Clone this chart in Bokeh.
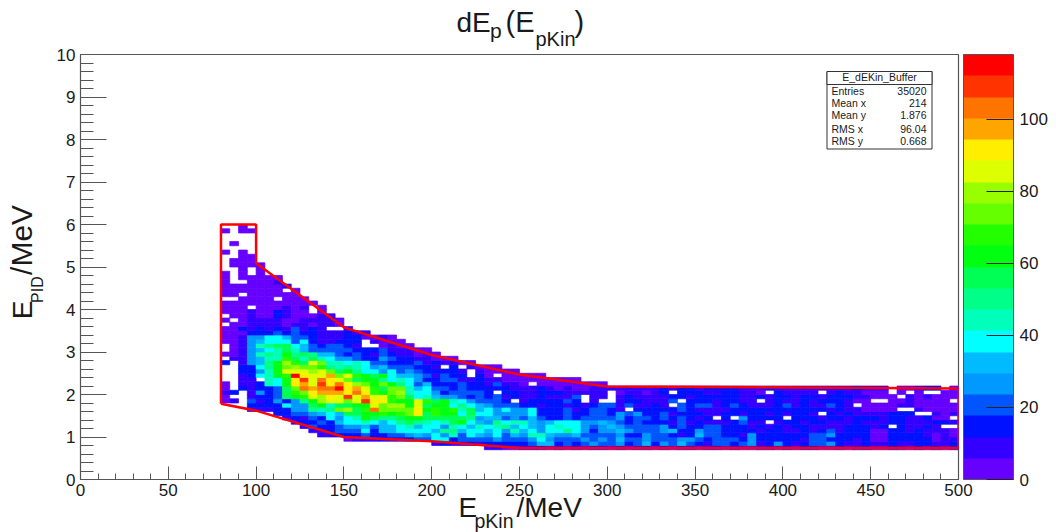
from bokeh.plotting import figure
from bokeh.layouts import row, column
from bokeh.models import (ColumnDataSource, LinearColorMapper, FixedTicker, Label, BoxAnnotation, Range1d, ColorBar)
from bokeh.transform import transform
from bokeh.core.properties import value
from bokeh.embed import file_html
from bokeh.resources import INLINE

# ---- data: counts per bin, 5 MeV wide columns starting at 80 MeV,
# rows named by lower edge in tenths of MeV
r59 = [0,0,3,0]
r58 = [3,0,3,3]
r55 = [0,3]
r53 = [3,0,3]
r52 = [0,0,3,3]
r51 = [0,3,3,3]
r50 = [0,3,3,3,3]
r49 = [0,0,3,0,3]
r48 = [3,0,3,0,3,0]
r47 = [3,0,3,3,3,3,3]
r46 = [3,0,0,3,3,3,9]
r45 = [3,3,3,3,3,3,3,9]
r44 = [3,3,3,3,3,3,3,0,3]
r43 = [3,3,0,3,3,3,3,3,3]
r42 = [0,0,3,3,3,3,0,3,3,3]
r41 = [3,3,3,3,3,3,3,3,3,3,3]
r40 = [3,3,3,0,3,3,3,9,3,9,0,3]
r39 = [3,3,3,9,3,3,15,9,3,3,0,3]
r38 = [0,3,3,9,3,3,15,9,3,3,3,9,9]
r37 = [3,0,3,9,9,9,9,3,3,9,9,9,9,3]
r36 = [0,3,3,9,9,9,9,3,9,9,3,9,9,3]
r35 = [3,3,15,9,15,9,15,9,21,9,15,9,0,0,9]
r34 = [3,3,3,15,15,15,21,15,21,15,15,9,9,9,15,9,9]
r33 = [3,3,9,27,27,38,38,32,21,21,15,9,9,9,15,15,3,3,9,3]
r32 = [3,3,9,27,32,38,38,38,21,38,15,9,9,15,15,15,0,9,3,3,3]
r31 = [0,3,9,27,44,50,56,56,38,32,21,15,21,21,15,9,0,0,3,9,3,3]
r30 = [0,3,9,27,32,38,44,56,44,32,21,21,21,21,21,15,15,15,21,9,9,9,3,3]
r29 = [3,3,9,27,44,50,44,62,50,56,50,32,32,21,15,21,15,9,21,15,9,9,3,9,3]
r28 = [0,9,9,27,32,44,44,68,56,44,56,44,38,27,27,21,15,15,27,21,15,15,9,9,3,3,3]
r27 = [15,0,9,27,32,50,62,80,68,56,88,74,44,44,38,44,38,21,21,15,15,15,21,9,15,9,9,3,3]
r26 = [0,0,15,15,38,50,62,74,80,74,74,68,50,44,50,44,38,27,32,21,21,21,15,15,9,0,15,0,9,3,3,3]
r25 = [0,0,15,15,27,44,62,85,85,85,80,85,74,56,62,50,38,38,27,38,21,27,21,15,15,15,15,9,0,9,3,3,3,3]
r24 = [0,0,9,15,38,44,62,68,115,91,85,85,97,74,85,68,62,56,62,38,32,32,27,21,9,21,15,15,0,15,3,0,3,3,3,3,3]
r23 = [0,0,9,9,0,44,38,62,91,109,85,103,91,85,74,56,62,62,50,38,44,38,27,15,15,21,21,9,9,15,9,9,3,3,3,3,3,3,3,3,3]
r22 = [3,0,9,9,15,44,38,62,91,97,85,109,91,103,91,80,74,62,74,62,50,38,21,32,15,15,15,21,15,15,9,21,9,9,3,0,3,3,3,3,3,3,3,3]
r21 = [3,0,15,9,15,15,21,56,74,103,97,103,103,115,91,97,85,68,56,74,74,44,32,38,21,21,15,21,15,15,15,15,15,9,9,9,15,9,3,9,3,3,9,9,
       9,9,9,9,9,9,15,9,15,15,9,15,15,15,15,9,9,9,15,9,9,9,9,9,9,9,9,9,15,9,9,9,0,3,3,9,15,15,0,3]
r20 = [9,15,0,9,27,15,21,56,68,74,91,97,97,97,91,103,91,68,62,74,80,44,38,38,27,15,21,21,21,21,15,0,15,15,9,9,15,15,15,9,9,9,9,9,
       0,3,9,9,3,9,15,0,15,15,15,9,9,15,15,9,9,3,0,15,9,9,9,9,0,9,15,9,9,3,3,3,0,3,0,3,0,0,3,3]
r19 = [3,0,0,9,15,15,21,56,62,68,85,80,91,85,109,85,97,85,85,68,74,56,38,44,32,27,27,21,15,21,15,21,9,15,9,9,15,9,9,9,21,0,9,9,
       0,9,15,9,9,9,9,15,15,9,15,15,15,15,15,9,9,15,9,15,15,9,15,15,9,15,15,15,9,9,3,3,3,0,9,3,9,3,3,3]
r18 = [3,9,0,21,9,15,27,15,27,50,62,80,85,85,74,85,109,91,91,68,62,62,85,68,56,62,44,38,27,21,21,21,15,0,9,15,15,15,15,21,15,0,9,0,
       0,9,15,15,9,9,9,21,0,15,15,15,9,15,15,9,9,0,9,15,9,9,15,9,15,15,15,9,3,3,0,0,3,3,9,3,3,3,3,0]
r17 = [0,0,0,15,15,15,15,38,27,27,56,62,44,56,56,62,62,85,74,80,80,62,85,56,62,62,38,50,38,32,27,21,21,21,15,15,9,15,15,9,15,9,15,21,
       21,9,21,9,9,15,9,0,21,15,21,21,9,15,21,15,9,9,9,15,21,9,15,9,9,21,15,9,0,3,3,3,3,9,9,3,3,3,3,3]
r16 = [0,0,0,9,9,9,15,15,27,27,50,44,50,74,80,56,68,103,74,74,74,74,91,62,68,62,68,44,56,32,38,27,38,27,27,38,15,15,15,21,9,15,21,21,
       15,9,0,15,15,15,15,15,21,15,9,9,9,9,15,15,15,15,15,15,15,15,15,15,15,9,15,9,9,3,3,3,3,0,0,9,3,3,3,3]
r15 = [0,0,0,0,0,0,15,15,21,21,27,32,38,32,56,56,62,62,68,62,68,74,91,56,68,62,62,38,56,38,38,27,27,27,27,38,15,15,15,21,15,15,21,21,
       15,27,21,27,15,15,21,9,15,15,15,9,9,15,15,9,15,15,9,15,9,15,15,9,0,15,9,15,9,9,9,9,15,15,15,0,0,9,3,9]
r14 = [0,0,0,0,0,0,0,9,15,9,21,15,38,27,38,44,62,56,50,50,56,62,62,56,56,56,56,56,50,27,32,32,21,27,21,32,21,15,15,21,15,21,21,21,
       21,27,15,21,21,15,21,15,21,15,9,15,0,15,0,27,15,15,15,15,0,15,15,15,9,15,15,9,15,15,15,9,15,15,9,9,15,3,3,0]
r13 = [0,0,0,0,0,0,0,0,9,15,15,21,15,32,38,38,44,38,32,38,50,56,50,44,38,44,56,62,38,32,27,50,38,44,44,32,27,32,38,38,38,27,27,32,
       27,21,15,21,15,15,15,9,21,9,15,9,9,9,15,21,9,9,0,9,15,15,9,15,15,9,9,9,15,9,9,9,15,15,9,9,9,15,15,9]
r12 = [0,0,0,0,0,0,0,0,0,9,21,15,15,21,27,27,32,21,32,32,38,44,32,38,38,27,44,38,32,44,38,44,50,32,38,32,27,38,44,38,38,27,21,27,
       32,27,21,21,21,21,27,15,21,15,15,21,21,15,15,15,9,15,9,15,9,15,15,9,9,9,9,15,15,15,9,15,0,15,9,9,15,9,0,0]
r11 = [0,0,0,0,0,0,0,0,0,0,9,9,15,21,21,21,38,15,32,32,38,38,38,38,32,50,50,32,38,38,32,38,27,44,32,38,27,38,38,50,38,27,15,27,
       27,32,27,21,21,21,27,32,15,15,27,21,21,15,15,15,15,9,15,15,9,9,15,9,15,21,9,15,15,15,3,3,15,15,9,15,9,9,9,3]
r10 = [0,0,0,0,0,0,0,0,0,0,0,9,9,15,15,15,21,15,15,21,21,27,32,27,38,27,44,21,38,32,27,38,21,32,27,44,44,32,27,27,32,21,21,21,
       21,27,15,15,27,21,21,15,9,15,32,21,21,15,15,9,27,15,15,15,15,15,15,21,21,27,15,15,15,15,3,3,15,15,15,15,9,3,9,3]
r09 = [0,0,0,0,0,0,0,0,0,0,0,0,0,0,3,9,9,9,9,9,9,15,21,21,38,38,15,21,21,21,21,27,21,21,21,27,38,27,21,21,21,27,21,27,
       21,32,21,21,27,21,21,21,27,27,21,15,21,21,21,15,27,15,15,15,15,15,9,21,21,15,15,15,9,15,3,3,15,15,15,15,15,3,9,9]
r08 = [0,0,0,0,0,0,0,0,0,0,0,0,0,0,0,0,0,0,0,0,0,0,0,0,9,15,9,9,15,9,15,15,15,15,15,21,32,32,15,21,15,21,27,21,
       21,27,15,21,32,15,27,21,32,21,15,9,21,21,15,21,27,9,15,27,15,9,15,21,21,27,15,9,9,15,9,9,15,9,9,15,15,9,9,15]
r07 = [0,0,0,0,0,0,0,0,0,0,0,0,0,0,0,0,0,0,0,0,0,0,0,0,0,0,0,0,0,0,9,9,3,3,9,9,9,3,9,3,9,3,9,9,
       3,9,3,9,9,3,9,3,9,9,3,9,9,3,9,3,3,9,9,3,9,3,9,9,3,3,9,3,9,9,3,3,9,9,3,9,3,9,3,9]

cut_x = [80, 80, 100, 100, 150, 200, 250, 300, 500, 500, 250, 200, 150, 100, 80]
cut_y = [1.78, 6.0, 6.0, 5.09, 3.58, 2.93, 2.47, 2.19, 2.14, 0.74, 0.74, 0.9, 1.0, 1.62, 1.78]

x_ticks = [0, 50, 100, 150, 200, 250, 300, 350, 400, 450, 500]
y_ticks = [0, 1, 2, 3, 4, 5, 6, 7, 8, 9, 10]
z_ticks = [0, 20, 40, 60, 80, 100]
z_max = 118
palette = ["#6600ff", "#3300ff", "#0011ff", "#0055ff", "#0099ff", "#00bbff", "#00ffff", "#00ffbb", "#00ff88", "#00ff55",
           "#00ff11", "#22ff00", "#66ff00", "#99ff00", "#ddff00", "#ffee00", "#ffa500", "#ff7400", "#ff3300", "#ff0000"]
stat_names = ["Entries", "Mean x", "Mean y", "RMS x", "RMS y"]
stat_values = ["35020", "214", "1.876", "96.04", "0.668"]

rows = {0.7: r07, 0.8: r08, 0.9: r09, 1.0: r10, 1.1: r11, 1.2: r12, 1.3: r13, 1.4: r14, 1.5: r15, 1.6: r16, 1.7: r17,
        1.8: r18, 1.9: r19, 2.0: r20, 2.1: r21, 2.2: r22, 2.3: r23, 2.4: r24, 2.5: r25, 2.6: r26, 2.7: r27, 2.8: r28,
        2.9: r29, 3.0: r30, 3.1: r31, 3.2: r32, 3.3: r33, 3.4: r34, 3.5: r35, 3.6: r36, 3.7: r37, 3.8: r38, 3.9: r39,
        4.0: r40, 4.1: r41, 4.2: r42, 4.3: r43, 4.4: r44, 4.5: r45, 4.6: r46, 4.7: r47, 4.8: r48, 4.9: r49, 5.0: r50,
        5.1: r51, 5.2: r52, 5.3: r53, 5.5: r55, 5.8: r58, 5.9: r59}

left, right, bottom, top, count = [], [], [], [], []
for y0, vals in rows.items():
    for i, v in enumerate(vals):
        if v > 0:
            left.append(80 + 5 * i); right.append(85 + 5 * i)
            bottom.append(y0); top.append(y0 + 0.1); count.append(v)
src = ColumnDataSource(dict(left=left, right=right, bottom=bottom, top=top, count=count))
mapper = LinearColorMapper(palette=palette, low=0, high=z_max)

FONT = "Liberation Sans"
AXC = "#555555"
TXT = "#1a1a1a"
TOP_H, LEFT_W, P_TOP = 44, 47, 10
K = 0.4  # baseline correction of the SVG text, in em

def X(px):
    return (px - 80) / 878 * 500

def Y(py):
    return (479 - py) / 425 * 10

p = figure(frame_width=878, frame_height=425, output_backend="svg", toolbar_location=None,
           x_range=Range1d(0, 500), y_range=Range1d(0, 10),
           min_border_left=80 - LEFT_W, min_border_right=10, min_border_top=P_TOP, min_border_bottom=20,
           background_fill_color="white", border_fill_color=None)
p.grid.visible = False
p.outline_line_color = AXC
p.outline_line_width = 1.2

p.xaxis.ticker = FixedTicker(ticks=x_ticks, minor_ticks=[v for v in range(0, 501, 10) if v not in x_ticks])
p.yaxis.ticker = FixedTicker(ticks=y_ticks, minor_ticks=[v / 5 for v in range(0, 51) if v % 5])
for ax, major, minor, stand in ((p.xaxis, 13, 6, 4), (p.yaxis, 26, 13, 5)):
    ax.major_tick_in = major
    ax.major_tick_out = 0
    ax.minor_tick_in = minor
    ax.minor_tick_out = 0
    ax.axis_line_color = AXC
    ax.major_tick_line_color = AXC
    ax.minor_tick_line_color = AXC
    ax.major_label_text_font = FONT
    ax.major_label_text_font_size = "17px"
    ax.major_label_text_color = TXT
    ax.major_label_standoff = stand
p.yaxis.major_label_orientation = "horizontal"

p.quad(left="left", right="right", bottom="bottom", top="top", source=src,
       fill_color=transform("count", mapper), line_color=transform("count", mapper), line_width=0.7)
p.line(cut_x, cut_y, line_color="#ff0000", line_width=2.5)

def lab(px, py, text, size, align="left"):
    p.add_layout(Label(x=px - 80, y=479 - (py - K * size), x_units="screen", y_units="screen", text=text, text_font=FONT,
                       text_font_size=f"{size}px", text_color=TXT, text_align=align, text_baseline="alphabetic"))

# stats box
p.add_layout(BoxAnnotation(left=X(826.5), right=X(931.5), top=Y(71), bottom=Y(148.5), fill_color="white", fill_alpha=1,
                           line_color="#333333", line_alpha=1, line_width=1))
p.add_layout(BoxAnnotation(left=X(826.5), right=X(931.5), top=Y(71), bottom=Y(84), fill_color="white", fill_alpha=1,
                           line_color="#333333", line_alpha=1, line_width=1))
lab(879, 81, "E_dEKin_Buffer", 10.5, align="center")
for name, val, base in zip(stat_names, stat_values, [95, 107, 119, 133, 145]):
    lab(831, base, name, 10.5)
    lab(926, base, val, 10.5, align="right")

# colour bar
cbar = ColorBar(color_mapper=mapper, ticker=FixedTicker(ticks=z_ticks), width=50, height=425, padding=0, margin=0,
                location=(5, 0), major_tick_in=27, major_tick_line_color="#222222", minor_tick_line_color=None,
                major_label_text_font=FONT, major_label_text_font_size="17px", major_label_text_color=TXT,
                label_standoff=6, bar_line_color=AXC, border_line_color=None, background_fill_color=None)
p.add_layout(cbar, "right")

# strips that carry the titles
def strip(w, h, x0, y0, margin=(0, 0, 0, 0)):
    s = figure(width=w, height=h, output_backend="svg", toolbar_location=None, margin=margin,
               x_range=Range1d(x0, x0 + w), y_range=Range1d(y0 + h, y0),
               min_border=0, outline_line_color=None, background_fill_color=None, border_fill_color=None)
    s.axis.visible = False
    s.grid.visible = False
    return s

def put(s, px, py, text, size):
    s.text([px], [py - K * size], text=[text], text_font=value(FONT), text_font_size=f"{size}px", text_color=TXT,
           text_align="left", text_baseline="alphabetic")

def put_up(s, px, py, text, size):
    s.text([px - K * size], [py], text=[text], text_font=value(FONT), text_font_size=f"{size}px", text_color=TXT,
           text_align="left", text_baseline="alphabetic", angle=1.5708)

top_strip = strip(1056, TOP_H + P_TOP, 0, 0, margin=(0, 0, -P_TOP, 0))
put(top_strip, 456, 33.5, "dE", 28)
put(top_strip, 489.5, 38.5, "p", 21)
put(top_strip, 505, 33.5, "(E", 29)
put(top_strip, 535, 46.5, "pKin", 20)
put(top_strip, 574, 33.5, ")", 29)

left_strip = strip(LEFT_W, P_TOP + 425 + 20, 0, TOP_H)
put_up(left_strip, 33, 327.5, "E", 28)
put_up(left_strip, 43, 310, "PID", 16)
put_up(left_strip, 33, 280, "/MeV", 30)

bottom_strip = strip(1056, 40, 0, 492, margin=(-7, 0, 0, 0))
put(bottom_strip, 458, 518, "E", 28)
put(bottom_strip, 474, 528, "pKin", 19.5)
put(bottom_strip, 516, 518, "/MeV", 28)

layout = column(top_strip, row(left_strip, p, spacing=0), bottom_strip, spacing=0)
open("out.html", "w").write(file_html(layout, INLINE))
